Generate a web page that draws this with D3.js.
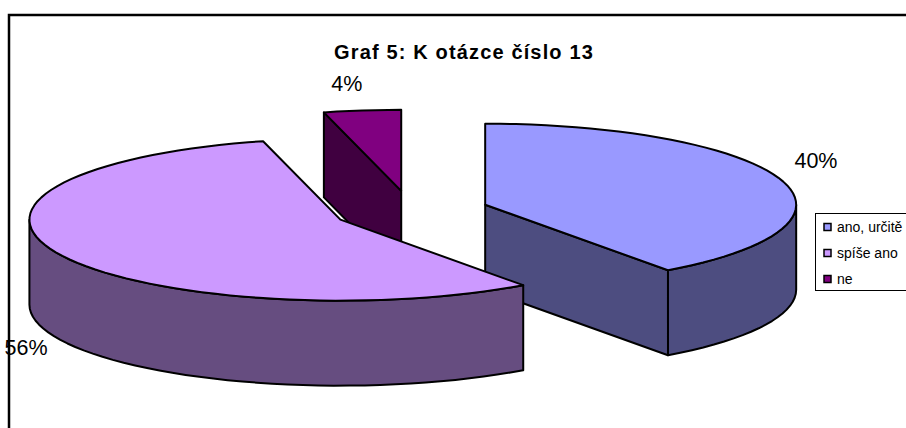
<!DOCTYPE html>
<html>
<head>
<meta charset="utf-8">
<script src="https://cdn.jsdelivr.net/npm/d3@7"></script>
<style>
  html, body { margin: 0; padding: 0; background: #fff; overflow: hidden; }
  text { font-family: "Liberation Sans", Arial, sans-serif; fill: #000; }
</style>
</head>
<body>
<div id="chart"></div>
<script>
// chart data
const categories = ['ano, určitě', 'spíše ano', 'ne'];
const values = [40, 56, 4];
const top_colors = ['#9999ff', '#cc99ff', '#800080'];
const side_colors = ['#4d4d80', '#664d80', '#400040'];
const title = 'Graf 5: K otázce číslo 13';

const width = 906, height = 428;

// 3d pie set up, the ellipse is a flattened circle
const center = {x: 411, y: 211};
const rx = 311, ry = 81, depth = 85, explode = 78;
const tilt = ry / rx;

const svg = d3.select('#chart').append('svg')
  .attr('width', width)
  .attr('height', height)
  .style('display', 'block');

// outer chart frame, runs off the right and bottom of the picture
svg.append('rect')
  .attr('x', 9).attr('y', 15)
  .attr('width', width + 20).attr('height', height + 20)
  .attr('fill', '#fff')
  .attr('stroke', '#000')
  .attr('stroke-width', 2.5);

svg.append('text')
  .attr('x', 464).attr('y', 59)
  .attr('text-anchor', 'middle')
  .style('font-size', '20px')
  .style('font-weight', 'bold')
  .style('letter-spacing', '1.15px')
  .text(title);

const pie = d3.pie().sort(null)(values);
const slices = pie.map((d, i) => {
  const mid = (d.startAngle + d.endAngle) / 2;
  return {
    ...d,
    i,
    mid,
    cx: center.x + explode * Math.sin(mid),
    cy: center.y - explode * Math.cos(mid) * tilt,
  };
});

function rim(s, a) {
  return [s.cx + rx * Math.sin(a), s.cy - ry * Math.cos(a)];
}

// coarse steps on purpose, the source outline is a bit angular
function rim_points(a0, a1, s) {
  const n = Math.max(2, Math.ceil((a1 - a0) / 0.05));
  return d3.range(n + 1).map(k => rim(s, a0 + (a1 - a0) * k / n));
}

const line = d3.line();
const drop = p => [p[0], p[1] + depth];

function draw_poly(g, pts, fill) {
  g.append('path')
    .attr('d', line(pts) + 'Z')
    .attr('fill', fill)
    .attr('stroke', '#000')
    .attr('stroke-width', 2)
    .attr('stroke-linejoin', 'round');
}

function draw_slice(s) {
  const g = svg.append('g').attr('class', 'slice');
  const side = side_colors[s.i];
  const apex = [s.cx, s.cy];

  // cut faces, only the ones turned towards the viewer
  if (Math.sin(s.startAngle) < -1e-6) {
    const p = rim(s, s.startAngle);
    draw_poly(g, [apex, p, drop(p), drop(apex)], side);
  }
  if (Math.sin(s.endAngle) > 1e-6) {
    const p = rim(s, s.endAngle);
    draw_poly(g, [apex, p, drop(p), drop(apex)], side);
  }

  // front wall is the part of the rim between 90 and 270 degrees
  const a0 = Math.max(s.startAngle, Math.PI / 2);
  const a1 = Math.min(s.endAngle, Math.PI * 1.5);
  if (a1 > a0) {
    const pts = rim_points(a0, a1, s);
    draw_poly(g, pts.concat(pts.map(drop).reverse()), side);
  }

  draw_poly(g, [apex, ...rim_points(s.startAngle, s.endAngle, s)], top_colors[s.i]);
}

// back slice first, then the two big ones
[2, 0, 1].forEach(i => draw_slice(slices[i]));

// percent labels sit next to the middle of the rim
const label_shift = [[35, -12], [-33, 101], [-15.5, -19]];
slices.forEach((s, i) => {
  const p = rim(s, s.mid);
  svg.append('text')
    .attr('x', p[0] + label_shift[i][0])
    .attr('y', p[1] + label_shift[i][1])
    .attr('text-anchor', 'middle')
    .style('font-size', '21.5px')
    .text(`${values[i]}%`);
});

// legend
const legend = svg.append('g').attr('transform', 'translate(815, 213)');
legend.append('rect')
  .attr('x', 0.5).attr('y', 0.5)
  .attr('width', 100).attr('height', 77)
  .attr('fill', '#fff')
  .attr('stroke', '#000')
  .attr('stroke-width', 1);

const legend_y = d3.scalePoint().domain(categories).range([14, 66]);

categories.forEach((c, i) => {
  legend.append('rect')
    .attr('x', 9).attr('y', legend_y(c) - 3.5)
    .attr('width', 7).attr('height', 7)
    .attr('fill', top_colors[i])
    .attr('stroke', '#000')
    .attr('stroke-width', 1.5);
  legend.append('text')
    .attr('x', 22).attr('y', legend_y(c) + 5)
    .style('font-size', '14px')
    .text(c);
});
</script>
</body>
</html>
